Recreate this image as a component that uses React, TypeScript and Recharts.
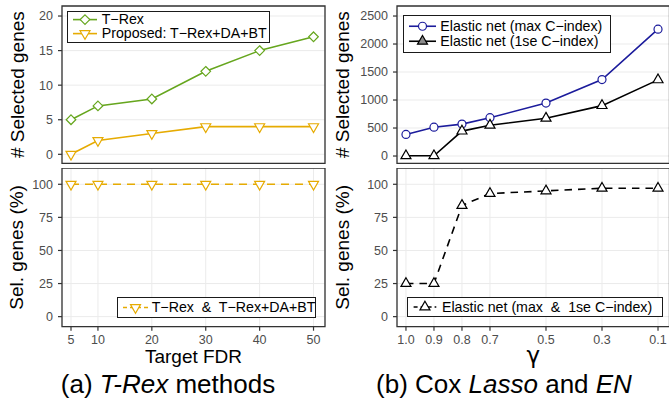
import React from "react";
import {
  LineChart,
  Line,
  XAxis,
  YAxis,
  CartesianGrid,
  ReferenceArea,
  Legend,
} from "recharts";

const FONT = '"Liberation Sans", Arial, Helvetica, sans-serif';
const GREEN = "#66A61E";
const GOLD = "#E6AB02";
const NAVY = "#1c1c9c";
const BLACK = "#000000";
const GRID = "#ebebeb";
const BORDER = "#333333";
const TICK_TEXT = "#4d4d4d";

// (a) T-Rex methods
const fdrLevels = [5, 10, 20, 30, 40, 50];
const trexSelected = [5, 7, 8, 12, 15, 17];
const proposedSelected = [0, 2, 3, 4, 4, 4];
const trexOverlapPct = [100, 100, 100, 100, 100, 100];
const countTicksA = [0, 5, 10, 15, 20];
const pctTicks = [0, 25, 50, 75, 100];

// (b) Cox Lasso and EN
const gammaLevels = [1.0, 0.9, 0.8, 0.7, 0.5, 0.3, 0.1];
const enMaxSelected = [385, 515, 570, 685, 945, 1365, 2265];
const en1seSelected = [4, 4, 445, 550, 675, 900, 1360];
const enOverlapPct = [25, 25, 84, 93, 95, 97, 97];
const countTicksB = [0, 500, 1000, 1500, 2000, 2500];

const dataA = fdrLevels.map((fdr, i) => ({
  fdr,
  trex: trexSelected[i],
  proposed: proposedSelected[i],
  overlap: trexOverlapPct[i],
}));

const dataB = gammaLevels.map((gamma, i) => ({
  gamma,
  max: enMaxSelected[i],
  se: en1seSelected[i],
  overlap: enOverlapPct[i],
}));

// axis ranges (ggplot-style padding around the data)
const fdrDomain: [number, number] = [3.33, 52.13];
const gammaDomain: [number, number] = [0.059, 1.032];
const countDomainA: [number, number] = [-1.3, 21.45];
const countDomainB: [number, number] = [-130, 2679];
const pctDomain: [number, number] = [-7.6, 112.3];

type Shape = "diamond" | "triDown" | "triUp" | "circle";

const Marker = ({ cx, cy, shape, color, fill = "#ffffff" }: any) => {
  const common = { stroke: color, strokeWidth: 1.2, fill };
  if (shape === "circle") return <circle cx={cx} cy={cy} r={4} {...common} />;
  if (shape === "diamond") {
    const d = 4.8;
    return (
      <polygon
        points={`${cx},${cy - d} ${cx + d},${cy} ${cx},${cy + d} ${cx - d},${cy}`}
        {...common}
      />
    );
  }
  const r = 5.8;
  const h = r / 2;
  const w = 5;
  if (shape === "triDown") {
    return (
      <polygon
        points={`${cx - w},${cy - h} ${cx + w},${cy - h} ${cx},${cy + r}`}
        {...common}
      />
    );
  }
  return (
    <polygon
      points={`${cx},${cy - r} ${cx + w},${cy + h} ${cx - w},${cy + h}`}
      {...common}
    />
  );
};

const dot = (shape: Shape, color: string) => (p: any) => (
  <Marker key={`${shape}-${p.index}`} cx={p.cx} cy={p.cy} shape={shape} color={color} />
);

const tickLine = { stroke: BORDER, strokeWidth: 1.2 };
const tickText = { fill: TICK_TEXT, fontSize: 12.5 };

const yTitle = (text: string, dx: number) => (props: any) => {
  const vb = props.viewBox;
  const cx = vb.x + dx;
  const cy = vb.y + vb.height / 2;
  return (
    <text
      x={cx}
      y={cy}
      dy="0.36em"
      transform={`rotate(-90 ${cx} ${cy})`}
      textAnchor="middle"
      fontSize={19}
      fill="#000"
    >
      {text}
    </text>
  );
};

const xTitle = (text: string, offset: number, size: number, family = FONT) => (props: any) => {
  const vb = props.viewBox;
  return (
    <text
      x={vb.x + vb.width / 2}
      y={vb.y + vb.height - offset}
      textAnchor="middle"
      fontSize={size}
      fontFamily={family}
      fill="#000"
    >
      {text}
    </text>
  );
};

interface KeySpec {
  shape: Shape;
  dashed?: boolean;
  fill?: string;
}

interface BoxSpec {
  width: number;
  height: number;
  row: number;
  padTop: number;
  lineFrom: number;
  lineTo: number;
  textLeft: number;
}

const LegendBox = ({
  payload,
  keys,
  box,
}: {
  payload: any[];
  keys: Record<string, KeySpec>;
  box: BoxSpec;
}) => (
  <div
    style={{
      width: box.width,
      height: box.height,
      boxSizing: "border-box",
      border: "1.2px solid #1a1a1a",
      background: "#ffffff",
      paddingTop: box.padTop,
      fontSize: 14.2,
      fontFamily: FONT,
      color: "#000",
    }}
  >
    {(payload ?? []).map((entry, i) => {
      const k = keys[String(entry.dataKey)] ?? { shape: "circle" };
      const mid = box.row / 2;
      return (
        <div
          key={i}
          style={{ position: "relative", height: box.row, lineHeight: `${box.row}px`, whiteSpace: "pre" }}
        >
          <svg
            width={box.textLeft}
            height={box.row}
            style={{ position: "absolute", left: 0, top: 0, overflow: "visible" }}
          >
            <line
              x1={box.lineFrom}
              x2={box.lineTo}
              y1={mid}
              y2={mid}
              stroke={entry.color}
              strokeWidth={1.6}
              strokeDasharray={k.dashed ? "4 3" : undefined}
            />
            <Marker
              cx={(box.lineFrom + box.lineTo) / 2}
              cy={mid}
              shape={k.shape}
              color={entry.color}
              fill={k.fill}
            />
          </svg>
          <span style={{ position: "absolute", left: box.textLeft, top: 0 }}>{entry.value}</span>
        </div>
      );
    })}
  </div>
);

// legend keeps the series order given in `keys`
const legendProps = (left: number, top: number, keys: Record<string, KeySpec>, box: BoxSpec) => {
  const order = Object.keys(keys);
  return {
    layout: "horizontal" as const,
    verticalAlign: "middle" as const,
    align: "center" as const,
    itemSorter: (item: any) => order.indexOf(String(item.dataKey)),
    wrapperStyle: { left, top, width: "auto", height: "auto" },
    content: (p: any) => {
      const items = [...(p.payload ?? [])].sort(
        (a, b) => order.indexOf(String(a.dataKey)) - order.indexOf(String(b.dataKey)),
      );
      return <LegendBox payload={items} keys={keys} box={box} />;
    },
  };
};

export default function App() {
  return (
    <div
      style={{
        position: "absolute",
        left: 0,
        top: 0,
        width: 669,
        height: 407,
        overflow: "hidden",
        background: "#ffffff",
        fontFamily: FONT,
      }}
    >
      {/* (a) top: number of selected genes */}
      <div style={{ position: "absolute", left: 0, top: 0 }}>
        <LineChart width={335} height={170} data={dataA} margin={{ top: 6, right: 10, bottom: 0, left: 0 }}>
          <CartesianGrid stroke={GRID} strokeWidth={1} />
          <XAxis
            dataKey="fdr"
            type="number"
            domain={fdrDomain}
            ticks={fdrLevels}
            allowDataOverflow
            interval={0}
            height={6.7}
            tick={false}
            tickSize={4}
            axisLine={false}
            tickLine={tickLine}
          />
          <YAxis
            type="number"
            domain={countDomainA}
            ticks={countTicksA}
            allowDataOverflow
            interval={0}
            width={62}
            tickSize={4}
            tickMargin={5}
            axisLine={false}
            tickLine={tickLine}
            tick={tickText}
            label={yTitle("# Selected genes", 17)}
          />
          <Line
            dataKey="trex"
            name="T−Rex"
            stroke={GREEN}
            strokeWidth={1.6}
            dot={dot("diamond", GREEN)}
            activeDot={false}
            isAnimationActive={false}
          />
          <Line
            dataKey="proposed"
            name="Proposed: T−Rex+DA+BT"
            stroke={GOLD}
            strokeWidth={1.6}
            dot={dot("triDown", GOLD)}
            activeDot={false}
            isAnimationActive={false}
          />
          <ReferenceArea
            x1={fdrDomain[0]}
            x2={fdrDomain[1]}
            y1={countDomainA[0]}
            y2={countDomainA[1]}
            fill="none"
            stroke={BORDER}
            strokeWidth={1.3}
            ifOverflow="visible"
          />
          <Legend
            {...legendProps(
              66.7,
              11,
              { trex: { shape: "diamond" }, proposed: { shape: "triDown" } },
              { width: 203.3, height: 31.7, row: 13.2, padTop: 1.4, lineFrom: 5, lineTo: 29, textLeft: 34 },
            )}
          />
        </LineChart>
      </div>

      {/* (a) bottom: share of selected genes */}
      <div style={{ position: "absolute", left: 0, top: 168 }}>
        <LineChart width={335} height={200} data={dataA} margin={{ top: 0, right: 10, bottom: 0, left: 0 }}>
          <CartesianGrid stroke={GRID} strokeWidth={1} />
          <XAxis
            dataKey="fdr"
            type="number"
            domain={fdrDomain}
            ticks={fdrLevels}
            allowDataOverflow
            interval={0}
            height={41.3}
            tickSize={4}
            tickMargin={4}
            axisLine={false}
            tickLine={tickLine}
            tick={tickText}
            label={xTitle("Target FDR", 4.7, 19)}
          />
          <YAxis
            type="number"
            domain={pctDomain}
            ticks={pctTicks}
            allowDataOverflow
            interval={0}
            width={62}
            tickSize={4}
            tickMargin={5}
            axisLine={false}
            tickLine={tickLine}
            tick={tickText}
            label={yTitle("Sel. genes (%)", 16.5)}
          />
          <Line
            dataKey="overlap"
            name="T−Rex  &  T−Rex+DA+BT"
            stroke={GOLD}
            strokeWidth={1.6}
            strokeDasharray="8 6"
            dot={dot("triDown", GOLD)}
            activeDot={false}
            isAnimationActive={false}
          />
          <ReferenceArea
            x1={fdrDomain[0]}
            x2={fdrDomain[1]}
            y1={pctDomain[0]}
            y2={pctDomain[1]}
            fill="none"
            stroke={BORDER}
            strokeWidth={1.3}
            ifOverflow="visible"
          />
          <Legend
            {...legendProps(
              116.7,
              128.7,
              { overlap: { shape: "triDown", dashed: true } },
              { width: 199, height: 21.6, row: 19, padTop: 0.1, lineFrom: 5, lineTo: 30, textLeft: 34 },
            )}
          />
        </LineChart>
      </div>

      {/* (b) top: number of selected genes */}
      <div style={{ position: "absolute", left: 325, top: 0 }}>
        <LineChart width={355} height={170} data={dataB} margin={{ top: 6, right: 10.5, bottom: 0, left: 0 }}>
          <CartesianGrid stroke={GRID} strokeWidth={1} />
          <XAxis
            dataKey="gamma"
            type="number"
            reversed
            domain={gammaDomain}
            ticks={gammaLevels}
            allowDataOverflow
            interval={0}
            height={6.7}
            tick={false}
            tickSize={4}
            axisLine={false}
            tickLine={tickLine}
          />
          <YAxis
            type="number"
            domain={countDomainB}
            ticks={countTicksB}
            allowDataOverflow
            interval={0}
            width={72}
            tickSize={4}
            tickMargin={5}
            axisLine={false}
            tickLine={tickLine}
            tick={tickText}
            label={yTitle("# Selected genes", 17.3)}
          />
          <Line
            dataKey="max"
            name="Elastic net (max C−index)"
            stroke={NAVY}
            strokeWidth={1.6}
            dot={dot("circle", NAVY)}
            activeDot={false}
            isAnimationActive={false}
          />
          <Line
            dataKey="se"
            name="Elastic net (1se C−index)"
            stroke={BLACK}
            strokeWidth={1.6}
            dot={dot("triUp", BLACK)}
            activeDot={false}
            isAnimationActive={false}
          />
          <ReferenceArea
            x1={gammaDomain[0]}
            x2={gammaDomain[1]}
            y1={countDomainB[0]}
            y2={countDomainB[1]}
            fill="none"
            stroke={BORDER}
            strokeWidth={1.3}
            ifOverflow="visible"
          />
          <Legend
            {...legendProps(
              78,
              15,
              { max: { shape: "circle" }, se: { shape: "triUp", fill: "#8c8c8c" } },
              { width: 208, height: 37.5, row: 14.5, padTop: 3, lineFrom: 5, lineTo: 32, textLeft: 36.3 },
            )}
          />
        </LineChart>
      </div>

      {/* (b) bottom: share of selected genes */}
      <div style={{ position: "absolute", left: 325, top: 168 }}>
        <LineChart width={355} height={200} data={dataB} margin={{ top: 0, right: 10.5, bottom: 0, left: 0 }}>
          <CartesianGrid stroke={GRID} strokeWidth={1} />
          <XAxis
            dataKey="gamma"
            type="number"
            reversed
            domain={gammaDomain}
            ticks={gammaLevels}
            allowDataOverflow
            interval={0}
            height={41.3}
            tickSize={4}
            tickMargin={4}
            axisLine={false}
            tickLine={tickLine}
            tick={tickText}
            tickFormatter={(v: number) => v.toFixed(1)}
            label={xTitle("γ", 4.7, 23, '"DejaVu Sans", sans-serif')}
          />
          <YAxis
            type="number"
            domain={pctDomain}
            ticks={pctTicks}
            allowDataOverflow
            interval={0}
            width={72}
            tickSize={4}
            tickMargin={5}
            axisLine={false}
            tickLine={tickLine}
            tick={tickText}
            label={yTitle("Sel. genes (%)", 17.3)}
          />
          <Line
            dataKey="overlap"
            name="Elastic net (max  &  1se C−index)"
            stroke={BLACK}
            strokeWidth={1.6}
            strokeDasharray="7.5 6"
            dot={dot("triUp", BLACK)}
            activeDot={false}
            isAnimationActive={false}
          />
          <ReferenceArea
            x1={gammaDomain[0]}
            x2={gammaDomain[1]}
            y1={pctDomain[0]}
            y2={pctDomain[1]}
            fill="none"
            stroke={BORDER}
            strokeWidth={1.3}
            ifOverflow="visible"
          />
          <Legend
            {...legendProps(
              81.7,
              128.7,
              { overlap: { shape: "triUp", dashed: true } },
              { width: 256.6, height: 20, row: 18, padTop: 0, lineFrom: 5.6, lineTo: 28.3, textLeft: 34.3 },
            )}
          />
        </LineChart>
      </div>

      {/* sub-figure captions */}
      <svg
        width={669}
        height={407}
        style={{ position: "absolute", left: 0, top: 0, pointerEvents: "none" }}
      >
        <text x={168} y={393} textAnchor="middle" fontSize={26} fontFamily={FONT} fill="#000">
          {"(a) "}
          <tspan fontStyle="italic">T-Rex</tspan>
          {" methods"}
        </text>
        <text x={504} y={393} textAnchor="middle" fontSize={26} fontFamily={FONT} fill="#000">
          {"(b) Cox "}
          <tspan fontStyle="italic">Lasso</tspan>
          {" and "}
          <tspan fontStyle="italic">EN</tspan>
        </text>
      </svg>
    </div>
  );
}
